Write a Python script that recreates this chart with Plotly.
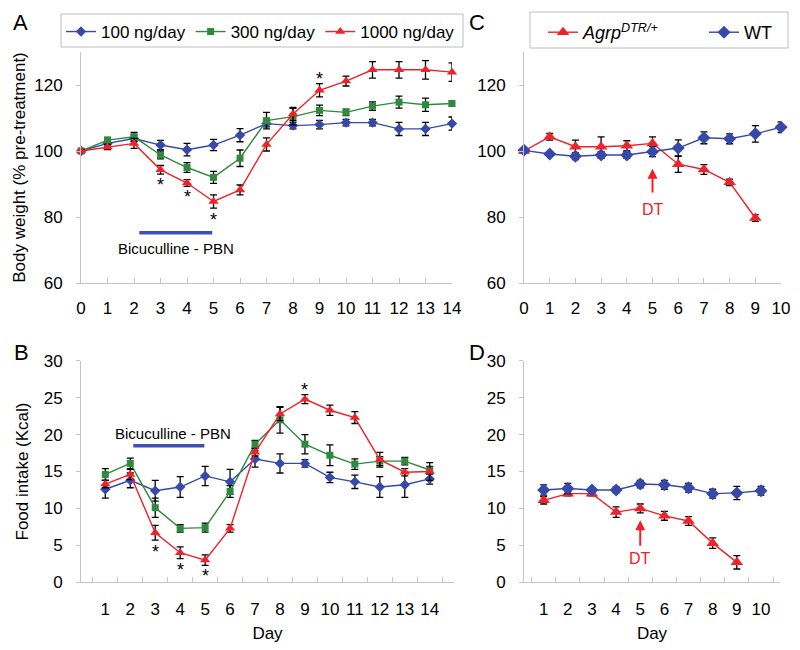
import plotly.graph_objects as go

# ---------------- data ----------------
days_a = list(range(0, 15))
bw_100 = [100, 102.3, 103.8, 101.8, 100.4, 101.8, 104.8, 108.3, 107.7, 108.0, 108.6, 108.6, 106.7, 106.7, 108.3]
bw_100_err = [0.5, 0.8, 1.0, 1.4, 1.9, 1.7, 2.0, 1.0, 1.0, 1.3, 1.0, 1.0, 2.0, 2.0, 2.0]
bw_300 = [100, 103.3, 104.3, 98.8, 95.0, 92.0, 97.8, 109.2, 110.4, 112.3, 111.7, 113.6, 114.8, 114.0, 114.4]
bw_300_err = [0.5, 0.8, 1.3, 1.2, 1.5, 1.8, 2.5, 2.5, 2.5, 1.6, 1.0, 1.3, 1.8, 2.0, 0.8]
bw_1000 = [100, 101.2, 102.3, 94.3, 90.3, 84.7, 88.2, 102.0, 111.2, 118.4, 121.2, 124.6, 124.6, 124.6, 123.9]
bw_1000_err = [0.5, 0.8, 1.5, 1.3, 1.0, 2.0, 1.5, 2.0, 2.0, 2.0, 1.5, 2.5, 2.5, 2.8, 2.8]

days_b = [str(d) for d in range(1, 15)]
fi_100 = [12.6, 13.8, 12.4, 12.9, 14.4, 13.6, 16.7, 16.1, 16.1, 14.2, 13.6, 12.9, 13.2, 14.0]
fi_100_err = [1.2, 1.0, 1.4, 1.4, 1.3, 1.7, 1.1, 1.3, 0.5, 0.7, 0.9, 1.4, 1.7, 0.7]
fi_300 = [14.6, 16.1, 10.1, 7.3, 7.4, 12.3, 18.7, 22.0, 18.7, 17.2, 16.0, 16.4, 16.4, 15.2]
fi_300_err = [0.8, 0.7, 1.3, 0.5, 0.6, 0.8, 0.5, 1.8, 1.3, 1.4, 0.7, 0.6, 0.5, 0.5]
fi_1000 = [13.3, 14.6, 6.7, 4.0, 3.0, 7.3, 17.6, 22.8, 24.8, 23.3, 22.3, 16.6, 14.9, 15.0]
fi_1000_err = [0.5, 0.7, 1.0, 0.8, 0.7, 0.5, 0.5, 0.9, 0.6, 0.7, 0.8, 1.0, 0.5, 1.2]

days_c = list(range(0, 11))
bw_agrp = [100, 104.3, 101.3, 101.3, 101.6, 102.3, 96.0, 94.4, 90.5, 79.7]
bw_agrp_err = [0.3, 1.0, 2.0, 3.0, 1.5, 2.0, 2.5, 1.5, 1.0, 1.0]
bw_wt = [100.2, 99.1, 98.4, 98.8, 98.8, 99.8, 100.9, 104.0, 103.7, 105.2, 107.2]
bw_wt_err = [0.3, 0.5, 1.0, 1.0, 1.0, 1.5, 2.5, 1.8, 1.5, 2.5, 1.6]

days_d = [str(d) for d in range(1, 11)]
fi_agrp = [11.1, 12.0, 12.0, 9.5, 10.0, 9.0, 8.3, 5.3, 2.7]
fi_agrp_err = [0.5, 0.3, 0.3, 0.7, 0.6, 0.6, 0.6, 0.7, 0.9]
fi_wt = [12.5, 12.7, 12.5, 12.5, 13.3, 13.2, 12.8, 12.0, 12.1, 12.4]
fi_wt_err = [0.7, 0.7, 0.3, 0.4, 0.5, 0.6, 0.6, 0.6, 0.9, 0.6]

# ---------------- styles ----------------
BLUE = "#3648a8"
GREEN = "#2e8a3c"
RED = "#ee2228"
AXC = "#c4c4c4"
FONT = "Liberation Sans, Arial, sans-serif"
W, H = 800, 650

fig = go.Figure()


def add(x, y, err, color, symbol, size, name, xa, ya, legend=None, show=False):
    fig.add_trace(go.Scatter(
        x=x, y=y, mode="lines+markers", name=name,
        line=dict(color=color, width=1.4),
        marker=dict(symbol=symbol, size=size, color=color, line=dict(width=0)),
        error_y=dict(type="data", array=err, color="black", thickness=1.3, width=3.5),
        xaxis=xa, yaxis=ya, showlegend=show, legend=legend, cliponaxis=False,
    ))


# Panel A
add(days_a, bw_100, bw_100_err, BLUE, "diamond", 8, "100 ng/day", "x", "y", "legend", True)
add(days_a, bw_300, bw_300_err, GREEN, "square", 7, "300 ng/day", "x", "y", "legend", True)
add(days_a, bw_1000, bw_1000_err, RED, "triangle-up", 9, "1000 ng/day", "x", "y", "legend", True)
# Panel B
add(days_b, fi_100, fi_100_err, BLUE, "diamond", 8, "100 ng/day", "x2", "y2")
add(days_b, fi_300, fi_300_err, GREEN, "square", 7, "300 ng/day", "x2", "y2")
add(days_b, fi_1000, fi_1000_err, RED, "triangle-up", 9, "1000 ng/day", "x2", "y2")
# Panel C
add(days_c[:len(bw_agrp)], bw_agrp, bw_agrp_err, RED, "triangle-up", 11,
    "<i>Agrp<sup>DTR/+</sup></i>", "x3", "y3", "legend2", True)
add(days_c, bw_wt, bw_wt_err, BLUE, "diamond", 10, "WT", "x3", "y3", "legend2", True)
# Panel D
add(days_d[:len(fi_agrp)], fi_agrp, fi_agrp_err, RED, "triangle-up", 11, "Agrp", "x4", "y4")
add(days_d, fi_wt, fi_wt_err, BLUE, "diamond", 10, "WT", "x4", "y4")

tickfont = dict(family=FONT, size=17, color="black")
common_y = dict(showline=True, linecolor=AXC, linewidth=1, ticks="outside", ticklen=4,
                tickcolor=AXC, showgrid=False, zeroline=False, tickfont=tickfont,
                ticklabelstandoff=10, automargin=False)
common_x = dict(showline=True, linecolor=AXC, linewidth=1, ticks="inside", ticklen=5,
                tickcolor=AXC, showgrid=False, zeroline=False, tickfont=tickfont,
                tickangle=0, automargin=False)

fig.update_layout(
    width=W, height=H,
    margin=dict(l=0, r=0, t=0, b=0, autoexpand=False),
    paper_bgcolor="white", plot_bgcolor="white",
    font=dict(family=FONT, size=17, color="black"),
    xaxis=dict(domain=[0.1013, 0.565], range=[0, 14], tickvals=days_a, anchor="y",
               ticklabelstandoff=10, **common_x),
    yaxis=dict(domain=[0.5646, 0.92], range=[60, 130], tickvals=[60, 80, 100, 120], anchor="x",
               title=dict(text="Body weight (% pre-treatment)", standoff=4,
                          font=dict(family=FONT, size=17)), **common_y),
    xaxis2=dict(domain=[0.1013, 0.5675], type="category", tickson="boundaries", anchor="y2",
                tickvals=days_b, ticklabelstandoff=11,
                title=dict(text="Day", standoff=9, font=dict(family=FONT, size=17)), **common_x),
    yaxis2=dict(domain=[0.1042, 0.445], range=[0, 30], tickvals=[0, 5, 10, 15, 20, 25, 30], anchor="x2",
                title=dict(text="Food intake (Kcal)", standoff=10,
                           font=dict(family=FONT, size=17)), **common_y),
    xaxis3=dict(domain=[0.655, 0.9763], range=[0, 10], tickvals=days_c, anchor="y3",
                ticklabelstandoff=10, **common_x),
    yaxis3=dict(domain=[0.5646, 0.92], range=[60, 130], tickvals=[60, 80, 100, 120], anchor="x3", **common_y),
    xaxis4=dict(domain=[0.655, 0.975], type="category", tickson="boundaries", anchor="y4",
                tickvals=days_d, ticklabelstandoff=11,
                title=dict(text="Day", standoff=9, font=dict(family=FONT, size=17)), **common_x),
    yaxis4=dict(domain=[0.1042, 0.445], range=[0, 30], tickvals=[0, 5, 10, 15, 20, 25, 30], anchor="x4", **common_y),
    legend=dict(orientation="h", x=61 / W, y=1 - 14 / H, xanchor="left", yanchor="top",
                borderwidth=0, bgcolor="rgba(0,0,0,0)",
                font=dict(family=FONT, size=17)),
    legend2=dict(orientation="h", x=543 / W, y=1 - 14 / H, xanchor="left", yanchor="top",
                 borderwidth=0, bgcolor="rgba(0,0,0,0)",
                 font=dict(family=FONT, size=18), entrywidth=116, entrywidthmode="pixels"),
)

# legend frames
fig.add_shape(type="rect", xref="paper", yref="paper", x0=61 / W, x1=463 / W,
              y0=1 - 47 / H, y1=1 - 14 / H, line=dict(color="#bdbdbd", width=1), layer="below")
fig.add_shape(type="rect", xref="paper", yref="paper", x0=530 / W, x1=788 / W,
              y0=1 - 48 / H, y1=1 - 12 / H, line=dict(color="#bdbdbd", width=1), layer="below")

# Bicuculline bars
fig.add_shape(type="line", xref="x", yref="y", x0=2.2, x1=4.95, y0=75.2, y1=75.2,
              line=dict(color="#3c50b8", width=3.5))
fig.add_shape(type="line", xref="x2", yref="y2", x0=1.12, x1=3.97, y0=18.5, y1=18.5,
              line=dict(color="#3c50b8", width=3.5))

ann = []
ann.append(dict(xref="x", yref="y", x=3.6, y=70.6, text="Bicuculline - PBN", showarrow=False,
                font=dict(size=15)))
ann.append(dict(xref="x2", yref="y2", x=2.73, y=20.1, text="Bicuculline - PBN", showarrow=False,
                font=dict(size=15)))

# significance stars
for xx, yy in [(3, 89.8), (4, 86.1), (5, 79.1), (9, 121.7)]:
    ann.append(dict(xref="x", yref="y", x=xx, y=yy, text="*", showarrow=False, font=dict(size=18)))
for xx, yy in [(2, 4.1), (3, 1.6), (4, 0.9), (8, 26.0)]:
    ann.append(dict(xref="x2", yref="y2", x=xx, y=yy, text="*", showarrow=False, font=dict(size=18)))

# DT arrows
ann.append(dict(xref="x3", yref="y3", x=5, y=94.6, ax=5, ay=87.0, axref="x3", ayref="y3",
                text="", showarrow=True, arrowhead=2, arrowsize=1, arrowwidth=2, arrowcolor=RED))
ann.append(dict(xref="x3", yref="y3", x=5, y=82.3, text="DT", showarrow=False,
                font=dict(size=16, color=RED)))
ann.append(dict(xref="x4", yref="y4", x=4, y=8.4, ax=4, ay=4.75, axref="x4", ayref="y4",
                text="", showarrow=True, arrowhead=2, arrowsize=1, arrowwidth=2, arrowcolor=RED))
ann.append(dict(xref="x4", yref="y4", x=4, y=3.2, text="DT", showarrow=False,
                font=dict(size=16, color=RED)))

# panel letters
for t, xx, yy in [("A", 0.014, 0.966), ("B", 0.015, 0.458), ("C", 0.584, 0.966), ("D", 0.584, 0.458)]:
    ann.append(dict(xref="paper", yref="paper", x=xx, y=yy, text=t, showarrow=False,
                    xanchor="left", yanchor="middle", font=dict(size=22)))

fig.update_layout(annotations=ann)
fig.write_html("out.html", config={"displayModeBar": False},
               post_script="document.body.style.margin='0px';")
